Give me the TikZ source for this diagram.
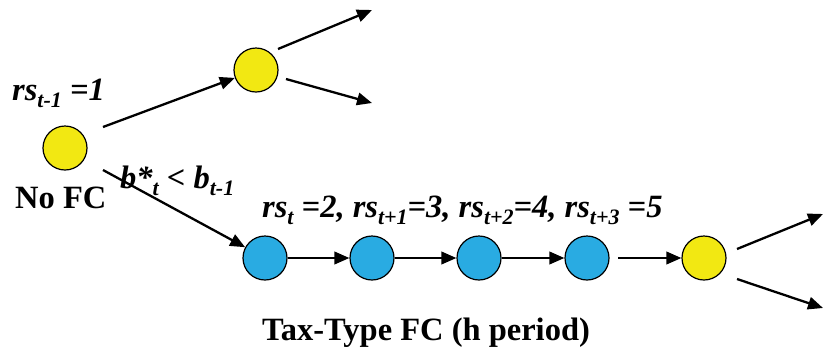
\documentclass[tikz,border=0pt]{standalone}
\usepackage{fontspec}
\setmainfont{Liberation Serif}
\usetikzlibrary{arrows.meta}
\definecolor{cyel}{RGB}{242,232,18}
\definecolor{cblu}{RGB}{41,171,226}
\newcommand\sbs[1]{\raisebox{-0.24em}{\fontsize{22}{22}\selectfont #1}}
\begin{document}
\begin{tikzpicture}[x=1pt,y=-1pt,
  state/.style={circle,draw=black,line width=1.2pt,minimum size=44pt,inner sep=0pt},
  ystate/.style={state,fill=cyel},
  bstate/.style={state,fill=cblu},
  arr/.style={line width=2.3pt,-{Triangle[length=15pt,width=12.5pt]}},
  lbl/.style={inner sep=0pt,anchor=base west,font=\fontsize{32.5}{32.5}\selectfont\bfseries\itshape},
  ttl/.style={inner sep=0pt,anchor=base west,font=\fontsize{32.5}{32.5}\selectfont\bfseries}]
\useasboundingbox (0,0) rectangle (828,360);
\node[ystate] (A) at (65,148) {};
\node[ystate] (B) at (256,70) {};
\node[bstate] (b1) at (265,258) {};
\node[bstate] (b2) at (372,258) {};
\node[bstate] (b3) at (479,258) {};
\node[bstate] (b4) at (587,258) {};
\node[ystate] (Y) at (704,258) {};
\coordinate (Bu) at (372,10);
\coordinate (Bd) at (372,103);
\coordinate (Yu) at (823,214);
\coordinate (Yd) at (823,308);
\draw[arr] ([shift={(38,-21)}]A.center) -- (B);
\draw[arr] ([shift={(38,22)}]A.center) -- (b1);
\draw[arr] ([shift={(22,-21)}]B.center) -- (Bu);
\draw[arr] ([shift={(30,9)}]B.center) -- (Bd);
\draw[arr] (b1) -- (b2);
\draw[arr] (b2) -- (b3);
\draw[arr] (b3) -- (b4);
\draw[arr] ([shift={(31,0)}]b4.center) -- (Y);
\draw[arr] ([shift={(33,-9)}]Y.center) -- (Yu);
\draw[arr] ([shift={(33,21)}]Y.center) -- (Yd);
\node[lbl] (t1) at (12,100) {rs\sbs{t-1} =1};
\node[lbl] (t2) at (120,188) {b*\sbs{t} < b\sbs{t-1}};
\node[ttl] (t3) at (15,208) {No FC};
\node[lbl] (t4) at (262,217) {rs\sbs{t} =2, rs\sbs{t+1}=3, rs\sbs{t+2}=4, rs\sbs{t+3} =5};
\node[ttl] (t5) at (262,340) {Tax-Type FC (h period)};
\end{tikzpicture}
\end{document}
